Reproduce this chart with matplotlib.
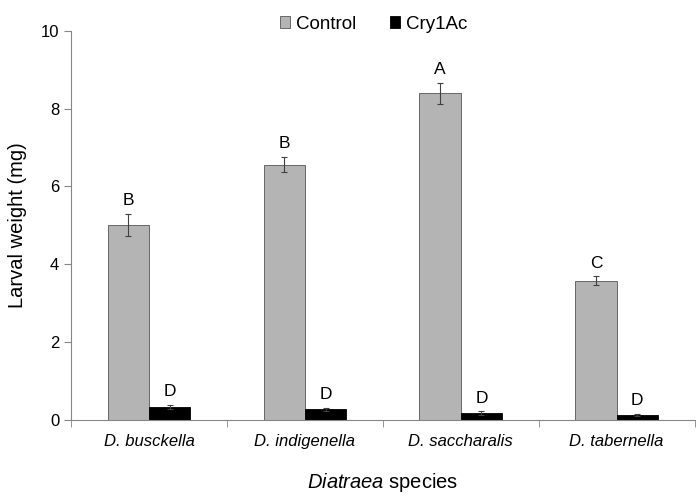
import numpy as np
import matplotlib.pyplot as plt

plt.rcParams['font.family'] = ['Liberation Sans', 'DejaVu Sans']
plt.rcParams['mathtext.fontset'] = 'custom'
plt.rcParams['mathtext.rm'] = 'Liberation Sans'
plt.rcParams['mathtext.it'] = 'Liberation Sans:italic'

species = ["D. busckella", "D. indigenella", "D. saccharalis", "D. tabernella"]
control = [5.02, 6.56, 8.40, 3.58]
control_err = [0.28, 0.20, 0.27, 0.11]
cry = [0.33, 0.27, 0.17, 0.13]
cry_err = [0.05, 0.03, 0.05, 0.03]
control_letters = ["B", "B", "A", "C"]
cry_letters = ["D", "D", "D", "D"]

fig = plt.figure(figsize=(6.96, 4.97), dpi=100)
ax = fig.add_axes([0.102, 0.155, 0.896, 0.783])

x = np.arange(len(species))
w = 0.265
axis_col = "#868686"
ax.bar(x - w/2, control, w, color="#b4b4b4", edgecolor="#555555", linewidth=0.6,
       yerr=control_err, error_kw=dict(ecolor="#404040", elinewidth=0.8, capsize=2.5, capthick=0.8),
       label="Control")
ax.bar(x + w/2, cry, w, color="black", edgecolor="black", linewidth=0.6,
       yerr=cry_err, error_kw=dict(ecolor="#404040", elinewidth=0.8, capsize=2.5, capthick=0.8),
       label="Cry1Ac")

for i in range(len(species)):
    ax.text(x[i] - w/2, control[i] + control_err[i] + 0.15, control_letters[i],
            ha="center", va="bottom", fontsize=12.5)
    ax.text(x[i] + w/2, cry[i] + cry_err[i] + 0.15, cry_letters[i],
            ha="center", va="bottom", fontsize=12.5)

ax.set_xlim(-0.5, len(species) - 0.5)
ax.set_ylim(0, 10)
ax.set_yticks([0, 2, 4, 6, 8, 10])
ax.set_xticks(x)
ax.set_xticklabels(species, fontstyle="italic", fontsize=12)
ax.set_xticks(np.arange(len(species) + 1) - 0.5, minor=True)
ax.tick_params(axis="x", which="major", length=0, pad=10)
ax.tick_params(axis="x", which="minor", length=5, color=axis_col, direction="out")
ax.tick_params(axis="y", length=5, color=axis_col, labelsize=12, direction="out")

for s in ["top", "right"]:
    ax.spines[s].set_visible(False)
for s in ["left", "bottom"]:
    ax.spines[s].set_color(axis_col)

ax.set_ylabel("Larval weight (mg)", fontsize=14.5, labelpad=10)
ax.set_xlabel(r"$\mathit{Diatraea}$ species", fontsize=14.5, labelpad=16)

ax.legend(loc="lower center", bbox_to_anchor=(0.485, 0.975), ncol=2, frameon=False,
          fontsize=13.5, handlelength=0.55, handleheight=0.6, columnspacing=1.8,
          handletextpad=0.3, borderaxespad=0)

fig.savefig("out.png", dpi=100)
